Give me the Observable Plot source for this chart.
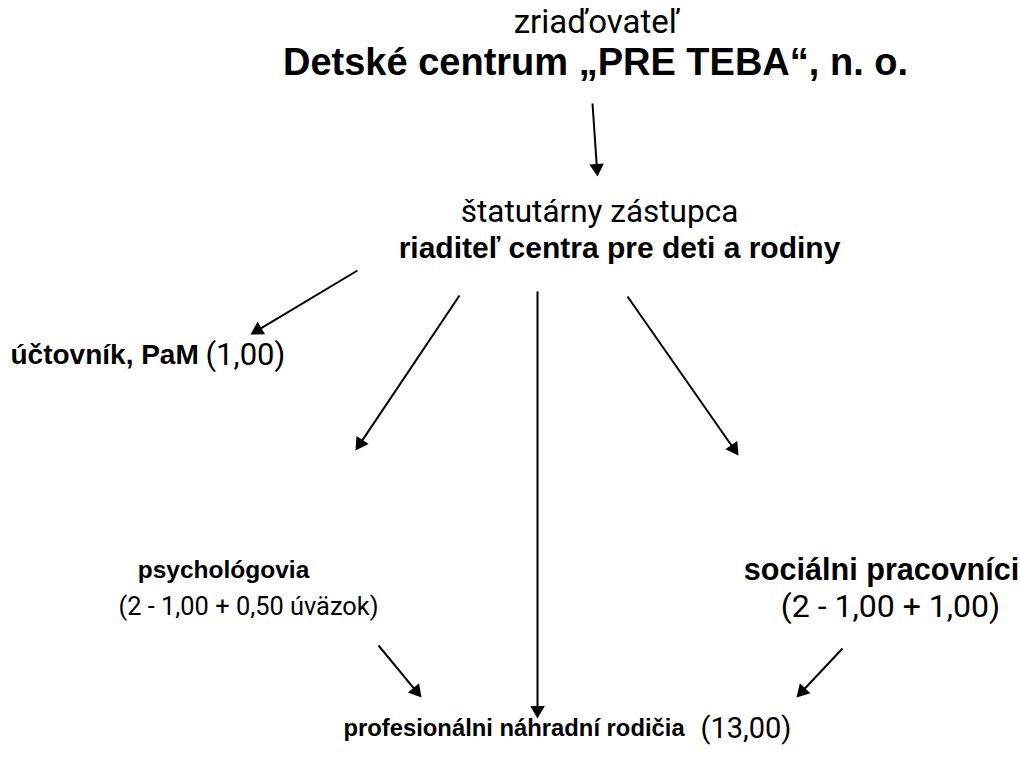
<!DOCTYPE html>
<html>
<head>
<meta charset="utf-8">
<script src="https://cdn.jsdelivr.net/npm/d3@7"></script>
<script src="https://cdn.jsdelivr.net/npm/@observablehq/plot@0.6"></script>
<style>
  html, body { margin: 0; padding: 0; background: #fff; }
  #chart svg { display: block; }
</style>
</head>
<body>
<div id="chart"></div>
<script>
// Node labels (diagram coordinates: x right, y down)
const labelText = [
  "zriaďovateľ",
  "Detské centrum „PRE TEBA“, n. o.",
  "štatutárny zástupca",
  "riaditeľ centra pre deti a rodiny",
  "účtovník, PaM",
  "(1,00)",
  "psychológovia",
  "(2 - 1,00 + 0,50 úväzok)",
  "sociálni pracovníci",
  "(2 - 1,00 + 1,00)",
  "profesionálni náhradní rodičia",
  "(13,00)"
];
const labelX = [596, 595, 599, 619, 10, 205, 223, 248, 881, 890, 343, 700];
const labelY = [22, 62, 211, 248, 355, 355, 570, 606, 570, 606, 728, 728];
const labelRole = ["light", "bold", "light", "bold", "bold", "light", "bold", "light", "bold", "light", "bold", "light"];
const labelAlign = ["middle", "middle", "middle", "middle", "start", "start", "middle", "middle", "middle", "middle", "start", "start"];

// Arrows: from (x1,y1) to (x2,y2)
const arrowX1 = [592, 357, 459, 537, 627, 378, 842];
const arrowY1 = [103, 270, 295, 291, 296, 645, 648];
const arrowX2 = [597, 250, 355, 537, 738, 421, 796];
const arrowY2 = [176, 334, 450, 718, 455, 697, 697];

// ---- styling (kept apart from the data) ----
const fontSizes = [33, 38, 31.5, 30, 28, 31, 24.5, 25.4, 30.6, 32, 23.8, 29];
const fontBold = "'Liberation Sans', Arial, sans-serif";
const fontLight = "Roboto, 'Liberation Sans', sans-serif";
const headR = 5.4;

const labels = labelText.map((t, i) => ({
  text: t, x: labelX[i], y: labelY[i], role: labelRole[i], align: labelAlign[i], size: fontSizes[i]
}));

const headSize = headR * headR * Math.PI;
const triY = Math.sqrt(headSize / (3 * Math.sqrt(3)));
const arrows = arrowX1.map((x1, i) => {
  const x2 = arrowX2[i], y1 = arrowY1[i], y2 = arrowY2[i];
  const dx = x2 - x1, dy = y2 - y1, L = Math.hypot(dx, dy);
  const ux = dx / L, uy = dy / L;
  return {
    x1, y1,
    lx2: x2 - ux * (3 * triY - 1), ly2: y2 - uy * (3 * triY - 1),
    hx: x2 - ux * 2 * triY, hy: y2 - uy * 2 * triY,
    angle: Math.atan2(dx, -dy) * 180 / Math.PI
  };
});

const textMarks = labels.map(d => Plot.text([d], {
  x: "x", y: "y", text: "text", textAnchor: d.align, lineAnchor: "middle",
  fontSize: d.size, fontFamily: d.role === "bold" ? fontBold : fontLight,
  fontWeight: d.role === "bold" ? 700 : 400, fill: "#000"
}));

const chart = Plot.plot({
  width: 1020,
  height: 760,
  margin: 0,
  x: {domain: [0, 1020], range: [0, 1020], axis: null},
  y: {domain: [0, 760], range: [0, 760], axis: null},
  style: {background: "#fff"},
  marks: [
    Plot.link(arrows, {x1: "x1", y1: "y1", x2: "lx2", y2: "ly2", stroke: "#000", strokeWidth: 2}),
    Plot.dot(arrows, {x: "hx", y: "hy", symbol: "triangle", r: headR, rotate: "angle", fill: "#000", stroke: "none"}),
    ...textMarks
  ]
});
document.getElementById("chart").appendChild(chart);
</script>
</body>
</html>
